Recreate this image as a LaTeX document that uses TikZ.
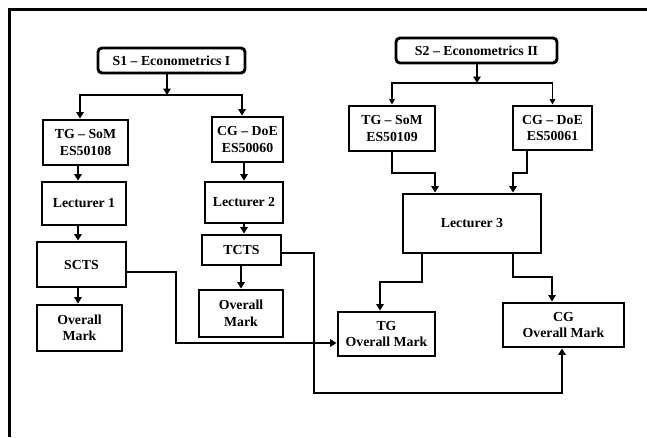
\documentclass[tikz,border=0pt]{standalone}
\usepackage{fontspec}
\setmainfont{Liberation Serif}
\usetikzlibrary{arrows.meta}
\begin{document}
\begin{tikzpicture}[x=1pt,y=-1pt,
  box/.style={draw,line width=2.9pt,align=center,inner sep=0pt,
    font=\fontsize{13.8}{16.5}\selectfont\bfseries},
  rbox/.style={box,rounded corners=4pt},
  arr/.style={line width=2.4pt,-{Triangle[length=6.5pt,width=7.5pt]}},
  thinarr/.style={line width=1.4pt,-{Triangle[length=5.5pt,width=5.5pt]}},
  frame/.style={line width=3.2pt}]
\useasboundingbox (0,0) rectangle (647,437);
\draw[frame] (647,9.5) -- (9.5,9.5) -- (9.5,437);

% nodes
\node[rbox,minimum width=147pt,minimum height=25pt] (s1) at (171.5,60.5) {S1 -- Econometrics I};
\node[rbox,minimum width=161pt,minimum height=25pt] (s2) at (476.5,50.5) {S2 -- Econometrics II};
\node[box,minimum width=85pt,minimum height=45pt] (tg1) at (85.5,142.5) {TG -- SoM\\ES50108};
\node[box,minimum width=71pt,minimum height=45pt] (cg1) at (247.5,139.5) {CG -- DoE\\ES50060};
\node[box,minimum width=84pt,minimum height=43pt] (lec1) at (84,203.5) {Lecturer 1};
\node[box,minimum width=78pt,minimum height=41pt] (lec2) at (244,202.5) {Lecturer 2};
\node[box,minimum width=89pt,minimum height=45pt] (scts) at (81.5,264.5) {SCTS};
\node[box,minimum width=79pt,minimum height=30pt] (tcts) at (241.5,250) {TCTS};
\node[box,minimum width=85pt,minimum height=46pt] (om1) at (79.5,328) {Overall\\Mark};
\node[box,minimum width=84pt,minimum height=47pt] (om2) at (241,313.5) {Overall\\Mark};
\node[box,minimum width=86pt,minimum height=45pt] (tg2) at (392,128.5) {TG -- SoM\\ES50109};
\node[box,minimum width=79pt,minimum height=44pt] (cg2) at (552.5,128) {CG -- DoE\\ES50061};
\node[box,minimum width=138pt,minimum height=59pt] (lec3) at (472,223.5) {Lecturer 3};
\node[box,minimum width=97pt,minimum height=44pt] (tgom) at (386.5,334) {TG\\Overall Mark};
\node[box,minimum width=121pt,minimum height=44pt] (cgom) at (563.5,325) {CG\\Overall Mark};

% bend points
\coordinate (j1) at (167,95);
\coordinate (j2) at (477,83);
\coordinate (a1) at (176,272);
\coordinate (a2) at (176,343);
\coordinate (b1) at (314,253);
\coordinate (b2) at (314,393);
\coordinate (b3) at (562,393);
\coordinate (d1) at (392,173);
\coordinate (d2) at (435,173);
\coordinate (e1) at (527,173);
\coordinate (e2) at (513,173);
\coordinate (f1) at (422,282);
\coordinate (f2) at (380,282);
\coordinate (g1) at (513,277);
\coordinate (g2) at (552,277);
\coordinate (k1) at (80,95);
\coordinate (k2) at (242,95);
\coordinate (m1) at (78,0);

% S1 branch
\draw[arr] (s1.south -| j1) -- (j1);
\draw[arr] (j1) -- (k1) -- (k1 |- tg1.north);
\draw[arr] (j1) -- (k2) -- (k2 |- cg1.north);
\draw[arr] (tg1.south -| m1) -- (m1 |- lec1.north);
\draw[arr] (lec1.south -| m1) -- (m1 |- scts.north);
\draw[arr] (scts.south -| m1) -- (m1 |- om1.north);
\draw[arr] (cg1.south -| lec2.north) -- (lec2.north);
\draw[arr] (lec2.south) -- (lec2.south |- tcts.north);
\draw[arr] (tcts.south -| om2.north) -- (om2.north);
\draw[arr] (scts.east |- a1) -- (a1) -- (a2) -- (tgom.west |- a2);
\draw[arr] (tcts.east |- b1) -- (b1) -- (b2) -- (b3) -- (b3 |- cgom.south);

% S2 branch
\draw[arr] (s2.south -| j2) -- (j2);
\draw[thinarr] (j2) -| (tg2.north);
\draw[thinarr] (j2) -| (cg2.north);
\draw[arr] (tg2.south -| d1) -- (d1) -- (d2) -- (d2 |- lec3.north);
\draw[arr] (cg2.south -| e1) -- (e1) -- (e2) -- (e2 |- lec3.north);
\draw[arr] (lec3.south -| f1) -- (f1) -- (f2) -- (f2 |- tgom.north);
\draw[arr] (lec3.south -| g1) -- (g1) -- (g2) -- (g2 |- cgom.north);
\end{tikzpicture}
\end{document}
